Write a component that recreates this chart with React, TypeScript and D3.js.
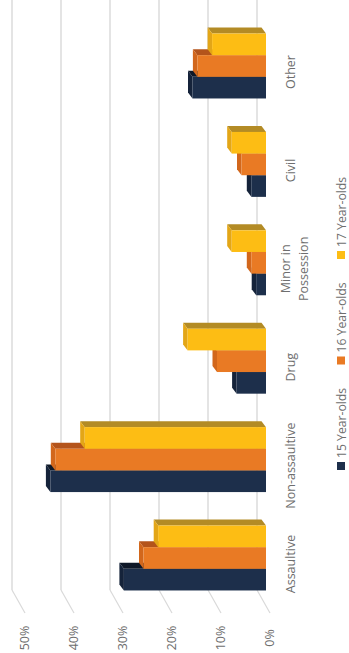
import React from "react";
import * as d3 from "d3";

const categories = ["Assaultive", "Non-assaultive", "Drug", "Minor in Possession", "Civil", "Other"];
const categoryLines = [["Assaultive"], ["Non-assaultive"], ["Drug"], ["Minor in", "Possession"], ["Civil"], ["Other"]];
const seriesNames = ["15 Year-olds", "16 Year-olds", "17 Year-olds"];
const age15 = [0.29, 0.44, 0.06, 0.02, 0.03, 0.15];
const age16 = [0.25, 0.43, 0.10, 0.03, 0.05, 0.14];
const age17 = [0.22, 0.37, 0.16, 0.07, 0.07, 0.11];
const tickValues = [0, 0.1, 0.2, 0.3, 0.4, 0.5];

const seriesValues = [age15, age16, age17];
const faceColors = [
  { front: "#1d2f4b", top: "#15233a", side: "#0e1828" },
  { front: "#e97a24", top: "#d2671c", side: "#b4541b" },
  { front: "#fdbd14", top: "#e3a617", side: "#b38b25" },
];

const W = 653; // unrotated width
const FONT = "'Open Sans', sans-serif";
const TEXT = "#6e6e6e";
const GRID = "#d9d9d9";

export default function App() {
  const y = d3.scaleLinear().domain([0, 0.5]).range([266, 21]);
  const backShift = 9;
  const x = d3.scaleBand<string>().domain(categories).range([45.8, 636.2]).paddingInner(0.34).paddingOuter(0.17);
  const xs = d3.scaleBand<string>().domain(seriesNames).range([0, x.bandwidth()]).padding(0);
  const dx = 6;
  const dy = -4.5;
  const y0 = y(0);
  const fmt = d3.format(".0%");

  const legendX = d3.scaleLinear().domain([0, 1]).range([183, 288.5]);

  return (
    <svg width={349} height={653} style={{ position: "absolute", left: 0, top: 0, background: "#fff" }}>
      <rect x={0} y={0} width={349} height={653} fill="#fff" />
      <g transform={`translate(0,${W}) rotate(-90)`}>
        {tickValues.map((t) => {
          const gy = y(t) - backShift;
          return (
            <g key={"g" + t}>
              <line x1={63} x2={W} y1={gy} y2={gy} stroke={GRID} strokeWidth={1.4} />
              <line x1={63} x2={40} y1={gy} y2={gy + 13} stroke={GRID} strokeWidth={1.2} />
            </g>
          );
        })}
        {tickValues.map((t) => (
          <text key={"t" + t} x={15} y={y(t) + 7.5} textAnchor="middle" fontFamily={FONT} fontSize={12.5} fill={TEXT}>
            {fmt(t)}
          </text>
        ))}
        {categories.map((c, ci) => (
          <g key={c}>
            {seriesNames.map((s, si) => {
              const v = seriesValues[si][ci];
              const x0 = (x(c) as number) + (xs(s) as number);
              const w = xs.bandwidth();
              const yv = y(v);
              const col = faceColors[si];
              const topPts = [[x0, yv], [x0 + w, yv], [x0 + w + dx, yv + dy], [x0 + dx, yv + dy]];
              const sidePts = [[x0 + w, yv], [x0 + w, y0], [x0 + w + dx, y0 + dy], [x0 + w + dx, yv + dy]];
              return (
                <g key={s}>
                  <polygon points={sidePts.map((p) => p.join(",")).join(" ")} fill={col.side} />
                  <polygon points={topPts.map((p) => p.join(",")).join(" ")} fill={col.top} />
                  <rect x={x0} y={yv} width={w} height={y0 - yv} fill={col.front} />
                </g>
              );
            })}
          </g>
        ))}
        {categories.map((c, ci) => {
          const cx = (x(c) as number) + x.bandwidth() / 2 - 6;
          const lines = categoryLines[ci];
          return (
            <text key={"c" + c} x={cx} textAnchor="middle" fontFamily={FONT} fontSize={12.5} fill={TEXT}>
              {lines.map((ln, li) => (
                <tspan key={li} x={cx} y={lines.length === 1 ? 295 : 290 + li * 18}>
                  {ln}
                </tspan>
              ))}
            </text>
          );
        })}
        {seriesNames.map((s, si) => {
          const lx = legendX(si);
          return (
            <g key={"l" + s}>
              <rect x={lx} y={337} width={8} height={8} fill={faceColors[si].front} />
              <text x={lx + 12} y={345.5} fontFamily={FONT} fontSize={12.2} fill={TEXT}>
                {s}
              </text>
            </g>
          );
        })}
      </g>
    </svg>
  );
}
